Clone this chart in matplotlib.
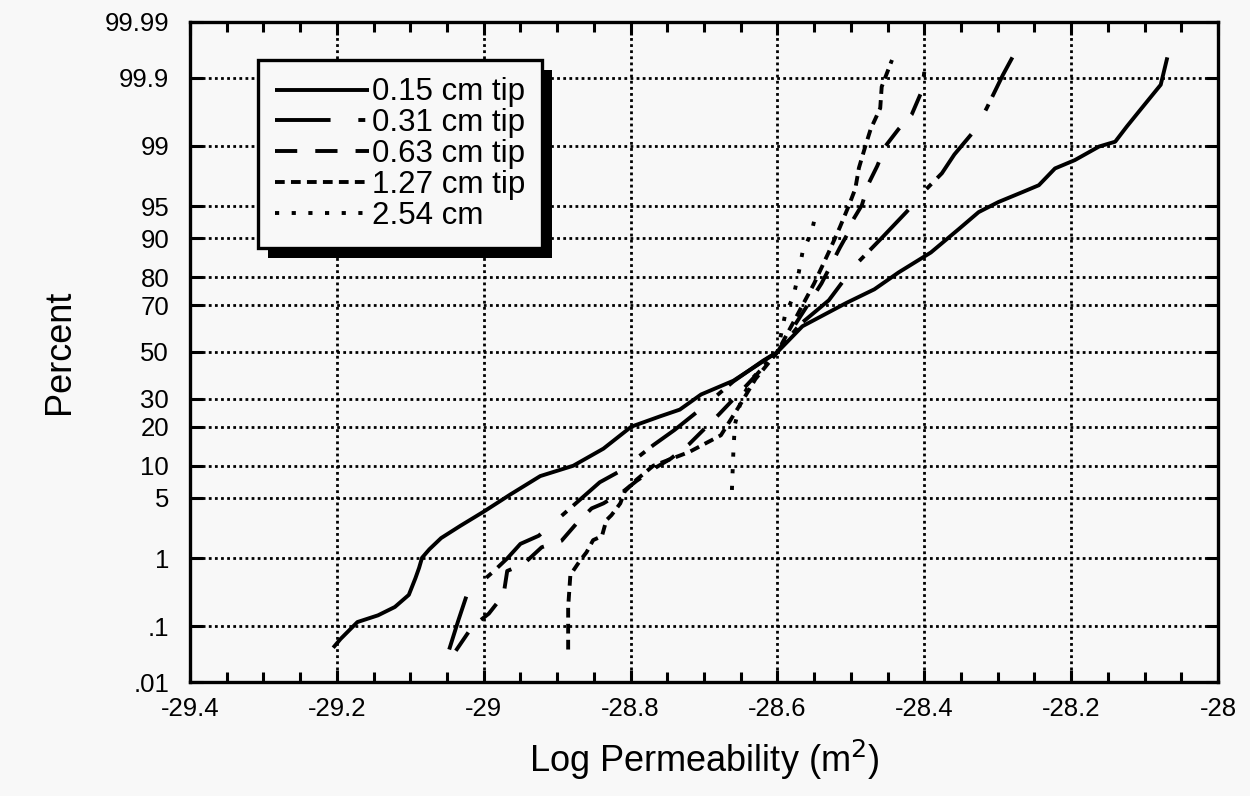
import numpy as np
import matplotlib
matplotlib.use("Agg")
import matplotlib.pyplot as plt
import matplotlib.patheffects as pe
from statistics import NormalDist

# Data: log permeability (m^2) vs cumulative percent
x_015 = [-29.205, -29.195, -29.172, -29.144, -29.121, -29.102, -29.093, -29.088, -29.084, -29.074,
         -29.058, -29.032, -29.0, -28.964, -28.923, -28.878, -28.837, -28.799, -28.760, -28.733,
         -28.704, -28.66, -28.60, -28.566, -28.506, -28.468, -28.435, -28.391, -28.353, -28.326,
         -28.299, -28.266, -28.244, -28.222, -28.195, -28.162, -28.14, -28.124, -28.108, -28.078, -28.069]
p_015 = [0.043, 0.061, 0.117, 0.15, 0.203, 0.31, 0.54, 0.75, 1.02, 1.31,
         1.8, 2.5, 3.6, 5.4, 8.1, 10.0, 13.8, 20.0, 23.4, 25.8,
         31.6, 37.3, 50.0, 61.4, 71.0, 76.0, 81.5, 86.9, 91.7, 94.25,
         95.45, 96.43, 96.99, 98.07, 98.47, 98.97, 99.11, 99.45, 99.66, 99.87, 99.955]

x_031 = [-29.047, -29.035, -29.023, -28.986, -28.968, -28.950, -28.925, -28.891, -28.842, -28.814,
         -28.769, -28.74, -28.70, -28.66, -28.62, -28.60, -28.57, -28.53, -28.495, -28.457,
         -28.424, -28.40, -28.376, -28.359, -28.33, -28.315, -28.293, -28.28]
p_031 = [0.04, 0.12, 0.31, 0.68, 1.0, 1.53, 1.92, 3.4, 7.1, 9.0,
         14.7, 19, 27, 37, 46, 50, 62, 72, 83.4, 90.2,
         94.3, 96.5, 97.8, 98.7, 99.4, 99.7, 99.91, 99.955]

x_063 = [-29.038, -29.016, -28.993, -28.973, -28.968, -28.946, -28.921, -28.894, -28.873, -28.853,
         -28.837, -28.81, -28.792, -28.765, -28.745, -28.72, -28.68, -28.64, -28.60, -28.57,
         -28.54, -28.515, -28.503, -28.498, -28.485, -28.476, -28.464, -28.453, -28.435, -28.417,
         -28.403, -28.40]
p_063 = [0.038, 0.097, 0.16, 0.31, 0.68, 0.84, 1.39, 1.67, 2.7, 3.9,
         4.4, 5.8, 7.3, 9.7, 11.5, 15, 24, 36, 50, 65,
         78, 88, 91.2, 93, 95.1, 97.1, 98.2, 98.98, 99.4, 99.63,
         99.84, 99.92]

x_127 = [-28.885, -28.885, -28.882, -28.869, -28.86, -28.851, -28.839, -28.833, -28.826, -28.814,
         -28.808, -28.792, -28.769, -28.72, -28.677, -28.65, -28.63, -28.60, -28.575, -28.55,
         -28.53, -28.515, -28.503, -28.494, -28.489, -28.48, -28.473, -28.46, -28.458, -28.444]
p_127 = [0.04, 0.2, 0.6, 0.93, 1.2, 1.7, 1.9, 2.9, 3.3, 4.4,
         5.8, 7.5, 10, 13, 17.4, 28, 38, 50, 65, 78,
         87, 92, 95, 96.7, 98.1, 99.0, 99.4, 99.7, 99.86, 99.95]

x_254 = [-28.662, -28.661, -28.66, -28.658, -28.649, -28.633, -28.615, -28.60, -28.59, -28.578,
         -28.571, -28.566, -28.553, -28.549]
p_254 = [6, 9, 13, 20.6, 30, 38.7, 45, 50, 65.6, 73.7,
         81.4, 86.8, 91.4, 93.5]

labels = ["0.15 cm tip", "0.31 cm tip", "0.63 cm tip", "1.27 cm tip", "2.54 cm"]
y_ticks = [0.01, 0.1, 1, 5, 10, 20, 30, 50, 70, 80, 90, 95, 99, 99.9, 99.99]
y_labels = [".01", ".1", "1", "5", "10", "20", "30", "50", "70", "80", "90", "95", "99", "99.9", "99.99"]
x_ticks = [-29.4, -29.2, -29.0, -28.8, -28.6, -28.4, -28.2, -28.0]

# probability (probit) scale
nd = NormalDist()
_ppf = np.vectorize(lambda v: nd.inv_cdf(v), otypes=[float])
_cdf = np.vectorize(lambda v: nd.cdf(v), otypes=[float])

def fwd(p):
    p = np.clip(np.asarray(p, dtype=float), 1e-7, 100 - 1e-7)
    return _ppf(p / 100.0)

def inv(z):
    return _cdf(np.asarray(z, dtype=float)) * 100.0

plt.rcParams['font.family'] = ['Liberation Sans', 'DejaVu Sans']
plt.rcParams['axes.unicode_minus'] = False
plt.rcParams['lines.scale_dashes'] = False

bg = '#f8f8f8'
fig = plt.figure(figsize=(12.5, 7.96), dpi=100, facecolor=bg)
ax = fig.add_axes([0.152, 0.1432, 0.8224, 0.8292], facecolor=bg)

styles = ['-', (0, (40, 20, 5, 6)), (0, (16, 13)), (0, (7, 4.5)), (0, (3, 9))]
series = [(x_015, p_015), (x_031, p_031), (x_063, p_063), (x_127, p_127), (x_254, p_254)]
for (xs, ps), ls, lab in zip(series, styles, labels):
    ax.plot(xs, ps, color='k', lw=2.8, linestyle=ls, label=lab,
            solid_capstyle='butt', dash_capstyle='butt')

ax.set_yscale('function', functions=(fwd, inv))
ax.set_ylim(0.01, 99.99)
ax.set_xlim(-29.4, -28.0)

ax.set_yticks(y_ticks)
ax.set_yticklabels(y_labels)
ax.yaxis.set_minor_locator(matplotlib.ticker.NullLocator())
ax.set_xticks(x_ticks)
ax.xaxis.set_major_formatter(matplotlib.ticker.FuncFormatter(lambda v, p: f"{v:g}"))
ax.xaxis.set_minor_locator(matplotlib.ticker.MultipleLocator(0.05))

ax.grid(True, which='major', color='k', lw=2.0, linestyle=(0, (2.0, 2.4)))
ax.tick_params(axis='both', which='both', direction='in', top=True, right=True, colors='k')
ax.tick_params(axis='both', which='major', length=9, width=2.2)
ax.tick_params(axis='x', which='minor', length=7, width=2.2)
ax.tick_params(axis='x', which='major', labelsize=18.5, pad=11)
ax.tick_params(axis='y', which='major', labelsize=18.5, pad=15)
for sp in ax.spines.values():
    sp.set_linewidth(2.4)

ax.set_xlabel("Log Permeability (m$^2$)", fontsize=26, labelpad=12)
ax.set_ylabel("Percent", fontsize=26, labelpad=20)

leg = ax.legend(loc='upper left', bbox_to_anchor=(0.066, 0.942), borderaxespad=0,
                fontsize=22.5, handlelength=3.0, handletextpad=0.1, labelspacing=0.03,
                borderpad=0.55, fancybox=False, framealpha=1, edgecolor='k', facecolor=bg)
leg.get_frame().set_linewidth(2.4)
leg.get_frame().set_path_effects([pe.withSimplePatchShadow(offset=(7, -7), shadow_rgbFace='k', alpha=1)])

fig.savefig("out.png", dpi=100, facecolor=bg)
